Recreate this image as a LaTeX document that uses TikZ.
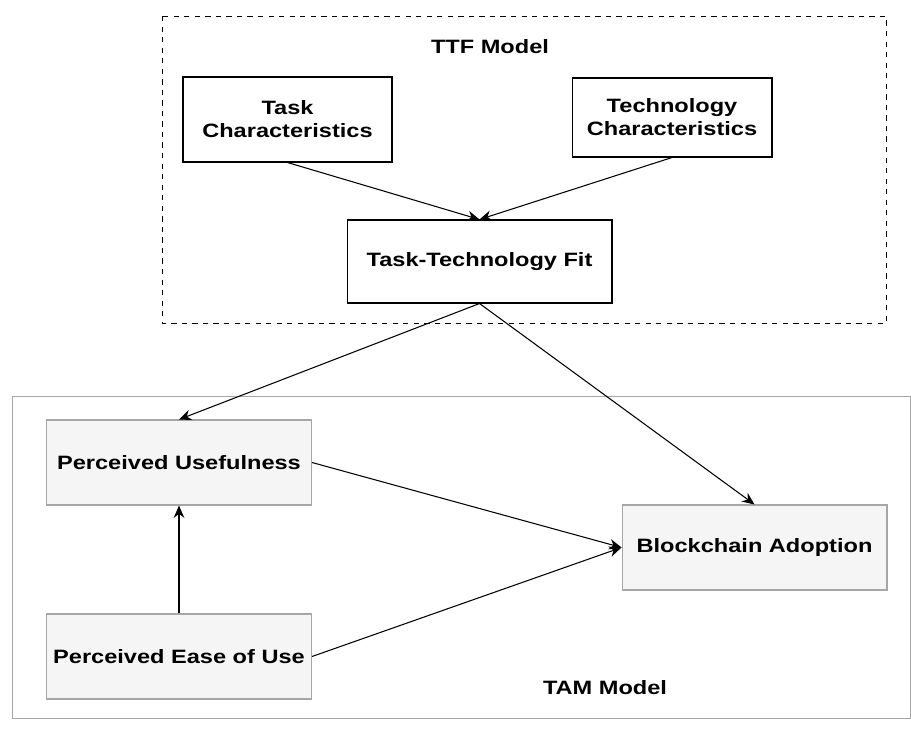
\documentclass[tikz,border=0pt]{standalone}
\usepackage{fontspec}
\setmainfont{Liberation Sans}[FakeStretch=1.22]
\usetikzlibrary{arrows.meta}

\begin{document}
\begin{tikzpicture}
  [x=0.02cm, y=-0.02cm,
  lbl/.style={font=\fontsize{11}{13}\selectfont\bfseries, align=center},
  ttfbox/.style={lbl, draw=black, fill=white, line width=0.6pt},
  tambox/.style={lbl, draw=gray!70, fill=gray!8, line width=0.6pt,
    minimum width=5.3cm, minimum height=1.7cm},
  link/.style={-{Stealth[length=7pt,width=6pt]}, line width=0.6pt}]

  \useasboundingbox (0,0) rectangle (911,729);

  % model frames
  \draw[dashed, line width=0.5pt] (162,16) rectangle (886,323);
  \draw[gray!70, line width=0.5pt] (12,396) rectangle (910,718);

  \node[lbl] (ttf) at (490,47) {TTF Model};
  \node[lbl] (tam) at (605,688) {TAM Model};

  % TTF part
  \node[ttfbox, minimum width=4.18cm, minimum height=1.7cm] (task) at (287.5,119.5)
    {Task\\Characteristics};
  \node[ttfbox, minimum width=4.0cm, minimum height=1.58cm] (tech) at (672,117.5)
    {Technology\\Characteristics};
  \node[ttfbox, minimum width=5.3cm, minimum height=1.66cm] (fit) at (479.5,261.5)
    {Task-Technology Fit};

  % TAM part
  \node[tambox] (pu) at (179,462.5) {Perceived Usefulness};
  \node[tambox] (peu) at (179,656.5) {Perceived Ease of Use};
  \node[tambox] (ba) at (754.5,547.5) {Blockchain Adoption};

  \draw[link] (task.south) -- (fit.north);
  \draw[link] (tech.south) -- (fit.north);
  \draw[link] (fit.south) -- (pu.north);
  \draw[link] (fit.south) -- (ba.north);
  \draw[link] (pu.east) -- (ba.west);
  \draw[link] (peu.east) -- (ba.west);
  \draw[link] (peu.north) -- (pu.south);

\end{tikzpicture}
\end{document}
